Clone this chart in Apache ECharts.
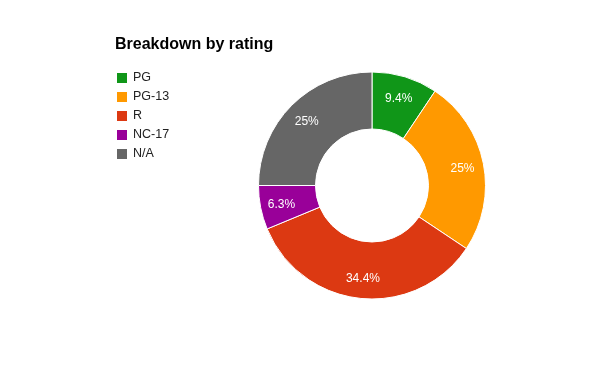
<!DOCTYPE html>
<html><head><meta charset="utf-8">
<script src="https://cdn.jsdelivr.net/npm/echarts@6/dist/echarts.min.js"></script>
<style>html,body{margin:0;padding:0;background:#fff}#c{width:600px;height:371px}</style>
</head><body><div id="c"></div>
<script>
const categories = ["PG", "PG-13", "R", "NC-17", "N/A"];
const counts = [3, 8, 11, 2, 8];
const colors = ["#109618", "#ff9900", "#dc3912", "#990099", "#666666"];
const titleText = "Breakdown by rating";

const chart = echarts.init(document.getElementById('c'), null, {renderer: 'canvas'});
const total = counts.reduce((a, b) => a + b, 0);
const pct = p => (Math.round(p.value / total * 1000) / 10) + '%';
const data = categories.map((c, i) => ({name: c, value: counts[i]}));
chart.setOption({
  animation: false,
  color: colors,
  title: {
    text: titleText, left: 115, top: 37, padding: 0,
    textStyle: {fontFamily: 'Liberation Sans, Arial', fontSize: 16, fontWeight: 'bold', color: '#000'}
  },
  legend: {
    orient: 'vertical', left: 115, top: 71, padding: 0,
    itemWidth: 12, itemHeight: 12, itemGap: 5, icon: 'rect',
    textStyle: {fontFamily: 'Liberation Sans, Arial', fontSize: 12.5, color: '#222'},
    data: categories
  },
  series: [{
    type: 'pie',
    center: [372, 185.5],
    radius: [56.5, 113.5],
    startAngle: 90,
    clockwise: true,
    avoidLabelOverlap: false,
    itemStyle: {borderColor: '#fff', borderWidth: 1},
    label: {show: false},
    labelLine: {show: false},
    emphasis: {disabled: true},
    data: data
  }, {
    type: 'pie',
    silent: true,
    center: [372, 186.5],
    radius: [65, 113.5],
    startAngle: 90,
    clockwise: true,
    avoidLabelOverlap: false,
    itemStyle: {color: 'rgba(0,0,0,0)', borderWidth: 0},
    label: {
      position: 'inside',
      color: '#fff',
      fontFamily: 'Liberation Sans, Arial',
      fontSize: 12,
      formatter: pct
    },
    labelLine: {show: false},
    emphasis: {disabled: true},
    data: data
  }]
});
</script></body></html>
